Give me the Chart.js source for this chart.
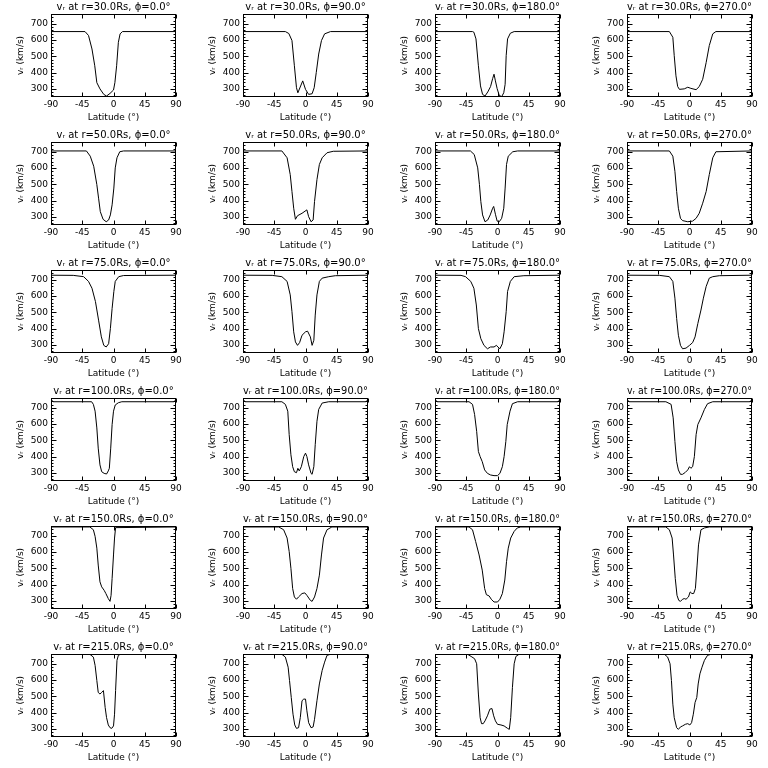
<!DOCTYPE html>
<html>
<head>
<meta charset="utf-8">
<script src="https://cdn.jsdelivr.net/npm/chart.js@4.4.1/dist/chart.umd.min.js"></script>
<style>
  body { margin: 0; background: #fff; }
  #grid { position: relative; width: 768px; height: 768px; }
  #grid canvas { position: absolute; }
</style>
</head>
<body>
<div id="grid"></div>
<script>
// radial speed vs latitude, one panel per (radius, longitude)
const radii = [30, 50, 75, 100, 150, 215];
const phis = [0, 90, 180, 270];
const latTicks = [-90, -45, 0, 45, 90];
const vTicks = [300, 400, 500, 600, 700];

// r = 30 Rs
const lat_30_0 = [-90, -41, -36, -31, -27, -24, -19.5, -14, -10, -5, 0, 2, 4.5, 7, 9.5, 13, 90];
const vr_30_0 = [652, 652, 628, 545, 442, 338, 300, 266, 256, 272, 293, 338, 442, 586, 638, 652, 652];
const lat_30_90 = [-90, -29, -24, -19.5, -16, -13, -11, -4, 0, 4.5, 9.5, 12.5, 15.5, 19, 23, 27.5, 36, 90];
const vr_30_90 = [652, 652, 640, 597, 442, 307, 276, 349, 297, 266, 270, 307, 400, 514, 597, 638, 652, 652];
const lat_30_180 = [-90, -36, -34, -31, -27.5, -24.5, -21.5, -18, -14, -10, -7, -5, -3, -0.5, 2.5, 6, 9, 11, 12.5, 14.5, 18.5, 24, 90];
const vr_30_180 = [652, 652, 648, 607, 442, 318, 266, 256, 281, 314, 363, 390, 349, 301, 260, 252, 276, 328, 504, 607, 642, 652, 652];
const lat_30_270 = [-90, -29, -24, -22, -19.5, -17, -14.5, -7.5, -2.5, 2, 9.5, 14, 19, 24, 28.5, 33.5, 38, 90];
const vr_30_270 = [652, 652, 617, 504, 380, 314, 297, 300, 310, 303, 295, 314, 359, 462, 566, 638, 652, 652];

// r = 50 Rs
const lat_50_0 = [-90, -39, -33.5, -28.5, -24, -21.5, -19, -15, -10.5, -7, -4.5, -2, 0.5, 2.5, 5, 9, 14.5, 90];
const vr_50_0 = [705, 705, 673, 611, 498, 415, 332, 285, 270, 281, 312, 374, 477, 601, 663, 700, 705, 705];
const lat_50_90 = [-90, -34, -26.5, -22, -19.5, -17, -14.5, -11.5, -5, 2, 4.5, 8, 11, 13, 16.5, 20, 24, 31, 40, 90];
const vr_50_90 = [705, 705, 663, 560, 456, 353, 285, 307, 322, 343, 301, 270, 281, 394, 529, 622, 663, 694, 703, 705];
const lat_50_180 = [-90, -39, -33.5, -28.5, -26, -24, -21.5, -18, -14, -10.5, -7, -5.5, -3, -0.5, 2.5, 6, 9, 11, 13, 15.5, 22, 29, 90];
const vr_50_180 = [705, 705, 683, 601, 498, 394, 312, 270, 281, 312, 353, 364, 316, 274, 270, 291, 353, 477, 622, 673, 700, 705, 705];
const lat_50_270 = [-90, -29, -24, -21, -18.5, -16, -13, -10, -2.5, 4.5, 9.5, 14, 19, 24, 28.5, 33.5, 38, 90];
const vr_50_270 = [705, 705, 673, 580, 456, 353, 291, 277, 270, 274, 291, 322, 384, 456, 560, 663, 700, 705];

// r = 75 Rs
const lat_75_0 = [-90, -58, -43, -36, -31, -26, -21.5, -17.5, -14, -10.5, -7, -4.5, -2, 0.5, 2.5, 7.5, 14.5, 90];
const vr_75_0 = [728, 727, 719, 690, 648, 566, 452, 349, 297, 287, 307, 400, 524, 628, 690, 719, 726, 728];
const lat_75_90 = [-90, -48, -34, -26.5, -22, -19.5, -17, -14.5, -11.5, -8.5, -5, 0, 3, 7, 9.5, 12, 14, 16.5, 20, 24, 33.5, 43, 90];
const vr_75_90 = [728, 727, 719, 690, 607, 504, 380, 318, 297, 314, 359, 380, 384, 349, 297, 328, 483, 607, 690, 710, 719, 725, 728];
const lat_75_180 = [-90, -52.5, -46, -38.5, -34, -30.5, -27.5, -24, -19.5, -14.5, -10, -5, -1.5, 0.5, 3.5, 7, 9.5, 12.5, 14.5, 18.5, 24, 38, 90];
const vr_75_180 = [728, 727, 719, 690, 648, 545, 400, 338, 297, 276, 287, 287, 297, 287, 276, 307, 380, 504, 628, 690, 719, 725, 728];
const lat_75_270 = [-90, -43, -29, -24, -21, -18.5, -16, -13, -10, -5, 0, 4.5, 8, 12, 16.5, 20, 24, 28.5, 33.5, 43, 90];
const vr_75_270 = [728, 727, 719, 690, 587, 462, 359, 297, 276, 280, 297, 314, 349, 431, 514, 587, 659, 710, 719, 725, 728];

// r = 100 Rs
const lat_100_0 = [-90, -87, -31.5, -29, -26.5, -24, -22, -19.5, -17, -13.5, -10, -7.5, -6, -4, -2, 0, 2.5, 7, 12, 87, 90];
const vr_100_0 = [752, 737, 737, 721, 679, 576, 452, 349, 307, 297, 293, 312, 328, 452, 597, 679, 717, 731, 737, 737, 750];
const lat_100_90 = [-90, -87, -34, -29, -25.5, -23.5, -21, -18.5, -16, -13, -11, -9, -6, -2.5, 0, 2, 4.5, 8, 9.5, 12, 14, 16.5, 19, 24, 33.5, 87, 90];
const vr_100_90 = [752, 737, 737, 721, 679, 535, 411, 338, 307, 301, 328, 312, 338, 400, 421, 400, 349, 297, 291, 338, 473, 617, 690, 729, 737, 737, 750];
const lat_100_180 = [-90, -87, -41, -36, -33, -30, -27.5, -25, -22, -18.5, -14.5, -10, -5, 0, 3.5, 7, 9.5, 12, 14, 18, 21.5, 29, 87, 90];
const vr_100_180 = [752, 737, 737, 721, 659, 555, 431, 400, 369, 318, 297, 287, 283, 283, 297, 338, 400, 493, 597, 679, 725, 737, 737, 750];
const lat_100_270 = [-90, -87, -34, -26.5, -23.5, -21, -18.5, -16, -13, -10, -6, -2.5, 0, 2, 4.5, 7, 9.5, 12, 16.5, 21.5, 26, 33.5, 87, 90];
const vr_100_270 = [752, 737, 737, 721, 638, 493, 369, 318, 291, 291, 303, 318, 338, 328, 338, 400, 535, 597, 638, 690, 725, 737, 737, 750];

// r = 150 Rs
const lat_150_0 = [-90, -34, -29, -26.5, -24, -22, -19.5, -17, -13.5, -11, -7.5, -5, -3.5, -2, 0, 1.5, 3, 90];
const vr_150_0 = [754, 754, 737, 696, 624, 520, 417, 386, 365, 345, 314, 297, 334, 438, 582, 686, 750, 754];
const lat_150_90 = [-90, -38.5, -31.5, -26.5, -23.5, -21, -18.5, -16, -13, -10, -5, -1, 2, 7, 9.5, 13, 16.5, 20, 23, 26, 31, 38, 90];
const vr_150_90 = [754, 754, 737, 686, 603, 500, 376, 324, 310, 324, 345, 349, 334, 303, 297, 324, 376, 458, 582, 686, 737, 754, 754];
const lat_150_180 = [-90, -41, -36, -31.5, -26.5, -22, -18.5, -16, -12, -9, -5, 0, 3.5, 7, 10.5, 13, 15.5, 19, 24, 28.5, 33.5, 90];
const vr_150_180 = [754, 754, 737, 665, 582, 489, 376, 338, 330, 310, 293, 293, 310, 345, 428, 541, 624, 686, 727, 748, 754, 754];
const lat_150_270 = [-90, -34, -29, -25, -23, -20.5, -18, -15.5, -13, -10, -7.5, -5, -1.5, 1, 3.5, 6, 8.5, 11, 13, 16.5, 21.5, 28.5, 90];
const vr_150_270 = [754, 754, 737, 686, 582, 438, 334, 303, 297, 310, 314, 310, 324, 355, 345, 345, 376, 520, 644, 737, 748, 754, 754];

// r = 215 Rs
const lat_215_0 = [-90, -34, -29, -26.5, -24, -22, -19.5, -17, -14.5, -12, -10, -7.5, -5, -2.5, 0, 1.5, 3, 5, 7, 10, 90];
const vr_215_0 = [758, 758, 741, 690, 597, 524, 514, 524, 535, 431, 369, 324, 307, 303, 318, 390, 535, 721, 752, 758, 758];
const lat_215_90 = [-90, -34, -29, -25, -23, -20.5, -18, -15.5, -13, -10, -7.5, -5, -2.5, 0, 2, 4.5, 8, 11, 13, 16.5, 20, 24, 27.5, 31, 36, 90];
const vr_215_90 = [758, 758, 741, 679, 597, 493, 390, 324, 303, 307, 369, 473, 483, 483, 411, 338, 307, 312, 359, 473, 576, 659, 710, 752, 758, 758];
const lat_215_180 = [-90, -43, -38, -33, -30, -27.5, -25, -23, -20.5, -18, -14.5, -11, -8, -5.5, -3, 0, 5, 9.5, 14.5, 17, 19, 21.5, 24, 26.5, 31, 90];
const vr_215_180 = [758, 758, 745, 731, 700, 514, 369, 332, 332, 349, 380, 421, 425, 380, 349, 328, 324, 318, 303, 297, 369, 555, 700, 745, 758, 758];
const lat_215_270 = [-90, -36, -31.5, -28, -26, -24, -22, -18.5, -16, -13, -10, -6, -2.5, 0.5, 3, 5.5, 8, 10.5, 12.5, 15, 18, 21.5, 26, 31, 90];
const vr_215_270 = [758, 758, 741, 700, 597, 452, 369, 307, 297, 312, 318, 328, 332, 324, 338, 390, 462, 493, 576, 638, 679, 721, 752, 758, 758];

const latRows = [
  [lat_30_0, lat_30_90, lat_30_180, lat_30_270],
  [lat_50_0, lat_50_90, lat_50_180, lat_50_270],
  [lat_75_0, lat_75_90, lat_75_180, lat_75_270],
  [lat_100_0, lat_100_90, lat_100_180, lat_100_270],
  [lat_150_0, lat_150_90, lat_150_180, lat_150_270],
  [lat_215_0, lat_215_90, lat_215_180, lat_215_270]
];
const vrRows = [
  [vr_30_0, vr_30_90, vr_30_180, vr_30_270],
  [vr_50_0, vr_50_90, vr_50_180, vr_50_270],
  [vr_75_0, vr_75_90, vr_75_180, vr_75_270],
  [vr_100_0, vr_100_90, vr_100_180, vr_100_270],
  [vr_150_0, vr_150_90, vr_150_180, vr_150_270],
  [vr_215_0, vr_215_90, vr_215_180, vr_215_270]
];

const FONT = 'DejaVu Sans';
const CELL_W = 192, CELL_H = 128;

// closed box with inward ticks on all four sides (minor ticks on v axis)
const frame = {
  id: 'frame',
  afterDatasetsDraw(chart) {
    const ctx = chart.ctx;
    const a = chart.chartArea;
    const x = chart.scales.x, y = chart.scales.y;
    const L = Math.round(a.left) + 0.5, R = Math.round(a.right) - 0.5;
    const T = Math.round(a.top) + 0.5, B = Math.round(a.bottom) - 0.5;
    ctx.save();
    ctx.strokeStyle = '#000';
    ctx.lineWidth = 1;
    ctx.strokeRect(L, T, R - L, B - T);
    ctx.beginPath();
    latTicks.forEach(v => {
      const px = Math.round(x.getPixelForValue(v)) + 0.5;
      ctx.moveTo(px, B); ctx.lineTo(px, B - 4);
      ctx.moveTo(px, T); ctx.lineTo(px, T + 4);
    });
    for (let v = 260; v <= 760; v += 20) {
      const py = Math.round(y.getPixelForValue(v)) + 0.5;
      const len = v % 100 === 0 ? 5 : 2;
      ctx.moveTo(L, py); ctx.lineTo(L + len, py);
      ctx.moveTo(R, py); ctx.lineTo(R - len, py);
    }
    ctx.stroke();
    ctx.restore();
  }
};

function makePanel(row, col) {
  const canvas = document.createElement('canvas');
  canvas.width = CELL_W;
  canvas.height = CELL_H;
  canvas.style.left = (col * CELL_W) + 'px';
  canvas.style.top = (row * CELL_H) + 'px';
  document.getElementById('grid').appendChild(canvas);

  const lat = latRows[row][col];
  const vr = vrRows[row][col];
  const title = 'v\u1d63 at r=' + radii[row].toFixed(1) + 'Rs, \u03d5=' + phis[col].toFixed(1) + '\u00b0';

  new Chart(canvas, {
    type: 'line',
    data: {
      datasets: [{
        data: lat.map((x, i) => ({ x: x, y: vr[i] })),
        borderColor: '#000',
        borderWidth: 1,
        pointRadius: 0,
        tension: 0,
        fill: false
      }]
    },
    options: {
      responsive: false,
      animation: false,
      devicePixelRatio: 1,
      layout: { padding: { left: 0, right: 16, top: 0, bottom: 0 } },
      plugins: {
        legend: { display: false },
        tooltip: { enabled: false },
        title: {
          display: true,
          text: title,
          color: '#000',
          fullSize: false,
          font: { family: FONT, size: 10, weight: 'normal', lineHeight: 1 },
          padding: { top: 2, bottom: 2 }
        }
      },
      scales: {
        x: {
          type: 'linear',
          min: -90,
          max: 90,
          afterBuildTicks: s => { s.ticks = latTicks.map(v => ({ value: v })); },
          afterFit: s => { s.height = 31; s.paddingLeft = 0; s.paddingRight = 0; },
          grid: { display: false, drawTicks: false },
          border: { display: false },
          ticks: { color: '#000', font: { family: FONT, size: 9 }, padding: 2, maxRotation: 0, autoSkip: false },
          title: {
            display: true,
            text: 'Latitude (\u00b0)',
            color: '#000',
            font: { family: FONT, size: 9, lineHeight: 1 },
            padding: 6
          }
        },
        y: {
          type: 'linear',
          min: 250,
          max: 760,
          afterBuildTicks: s => { s.ticks = vTicks.map(v => ({ value: v })); },
          afterFit: s => { s.width = 51; s.paddingTop = 0; s.paddingBottom = 0; },
          grid: { display: false, drawTicks: false },
          border: { display: false },
          ticks: { color: '#000', font: { family: FONT, size: 9 }, padding: 3, autoSkip: false },
          title: {
            display: true,
            text: 'v\u1d63 (km/s)',
            color: '#000',
            font: { family: FONT, size: 9, lineHeight: 1 },
            padding: 16
          }
        }
      }
    },
    plugins: [frame]
  });
}

for (let r = 0; r < radii.length; r++) {
  for (let c = 0; c < phis.length; c++) {
    makePanel(r, c);
  }
}
</script>
</body>
</html>
